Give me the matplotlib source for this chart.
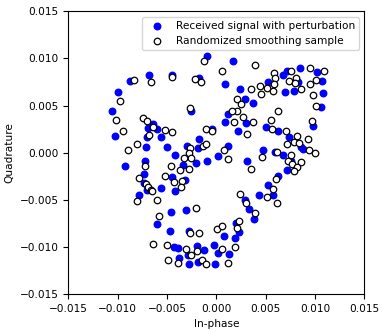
import numpy as np
import matplotlib
matplotlib.use("Agg")
import matplotlib.pyplot as plt

# received signal (blue, filled)
rx_i = [-0.00682, -0.00444, -0.00875, -0.01001, -0.01054, -0.00645, -0.00695, -0.00598,
        -0.01022, -0.00705, -0.00560, -0.00712, -0.00497, -0.00416, -0.00723, -0.00259,
        -0.00099, 0.00166, -0.00180, 0.00083, 0.00240, 0.00291, 0.00375, 0.00122,
        0.00088, 0.00304, 0.00215, -0.00044, -0.00172, 0.00122, -0.00297, -0.00185,
        0.00017, -0.00097, 0.00311, -0.00209, 0.00848, 0.01021, 0.00714, 0.00676,
        0.00519, 0.00828, 0.01068, 0.00696, 0.00791, 0.01081, 0.01056, 0.00983,
        0.00501, 0.00622, 0.00737, 0.00861, 0.00882, 0.00476, 0.00679, 0.00595,
        -0.00925, -0.00736, -0.00454, -0.00733, -0.00702, -0.00564, -0.00419, -0.00783,
        -0.00459, -0.00596, -0.00469, -0.00432, -0.00385, -0.00317, 0.00291, 0.00328,
        0.00382, -0.00310, 0.00200, 0.00233, -0.00274, 0.00081, 0.00190, -0.00199,
        -0.00122, -0.00028, -0.00284, 0.00020, 0.00126, -0.00189, -0.00275, -0.00011,
        -0.00381, 0.00757, 0.00717, 0.00628, 0.00527, 0.00435, 0.00570, -0.00334]
rx_q = [0.00824, 0.00821, 0.00760, 0.00640, 0.00439, 0.00304, 0.00259, 0.00248,
        0.00177, 0.00170, 0.00166, 0.00060, 0.00064, -0.00022, -0.00083, 0.00442,
        0.01030, 0.00972, 0.00789, 0.00734, 0.00678, 0.00569, 0.00524, 0.00413,
        0.00322, 0.00318, 0.00230, 0.00254, 0.00148, 0.00076, 0.00068, 0.00053,
        -0.00035, -0.00093, -0.00093, -0.00109, 0.00903, 0.00852, 0.00866, 0.00829,
        0.00755, 0.00749, 0.00765, 0.00647, 0.00654, 0.00636, 0.00488, 0.00280,
        0.00276, 0.00230, 0.00170, 0.00064, 0.00036, 0.00032, -0.00021, 0.00002,
        -0.00138, -0.00223, -0.00261, -0.00318, -0.00395, -0.00371, -0.00403, -0.00454,
        -0.00625, -0.00761, -0.00833, -0.01003, -0.01013, -0.00293, -0.00501, -0.00594,
        -0.00700, -0.00611, -0.00748, -0.00841, -0.00833, -0.00888, -0.00904, -0.00989,
        -0.01028, -0.00981, -0.01088, -0.01065, -0.01074, -0.01159, -0.01185, -0.01180,
        -0.01118, -0.00091, -0.00189, -0.00252, -0.00348, -0.00454, -0.00454, -0.00130]

# randomized smoothing samples (open circles)
rs_i = [-0.00120, -0.00657, -0.00831, -0.00454, -0.00971, -0.01020, -0.00944, -0.00264,
        -0.00213, -0.00160, 0.00053, -0.00740, -0.00699, -0.00642, -0.00517, -0.00452,
        -0.00679, -0.00107, -0.00047, -0.00890, -0.00804, -0.00264, -0.00132, -0.00104,
        0.00397, 0.00347, 0.00213, 0.00253, 0.00213, 0.00156, 0.00268, 0.00182,
        0.00369, 0.00308, 0.00081, -0.00272, -0.00330, -0.00256, 0.00119, 0.00950,
        0.01095, 0.00757, 0.00585, 0.00808, 0.00598, 0.00740, 0.00795, 0.01007,
        0.00950, 0.00443, 0.00511, 0.00585, 0.00578, 0.00858, 0.00977, 0.00450,
        0.01010, 0.00625, 0.00970, 0.00551, 0.00565, 0.00703, 0.00818, 0.00929,
        0.00714, 0.00791, 0.00835, 0.00940, 0.00997, 0.00610, 0.00460, 0.00760,
        0.00727, 0.00767, 0.00858, 0.00820, 0.00790, 0.00608, 0.00572, 0.00517,
        0.00620, 0.00392, 0.00352, -0.00723, -0.00459, -0.00373, -0.00780, -0.00517,
        -0.00432, -0.00716, -0.00697, -0.00659, -0.00649, -0.00801, -0.00604, -0.00578,
        -0.00645, -0.00503, -0.00493, -0.00391, -0.00274, -0.00351, -0.00358, 0.00243,
        0.00299, -0.00201, 0.00233, 0.00205, 0.00004, 0.00061, -0.00267, -0.00173,
        -0.00307, 0.00193, 0.00058, -0.00256, -0.00196, -0.00148, -0.00107, 0.00119]
rs_q = [0.00972, 0.00749, 0.00771, 0.00802, 0.00553, 0.00352, 0.00235, 0.00477,
        0.00787, 0.00747, 0.00866, 0.00365, 0.00339, 0.00276, 0.00241, 0.00223,
        0.00186, 0.00246, 0.00233, 0.00032, 0.00087, 0.00050, 0.00076, 0.00095,
        0.00927, 0.00678, 0.00569, 0.00516, 0.00442, 0.00442, 0.00382, 0.00325,
        0.00325, 0.00198, 0.00029, -0.00008, -0.00053, -0.00059, -0.00067, 0.00895,
        0.00866, 0.00866, 0.00842, 0.00792, 0.00795, 0.00757, 0.00742, 0.00771,
        0.00725, 0.00710, 0.00689, 0.00728, 0.00654, 0.00678, 0.00612, 0.00625,
        0.00498, 0.00442, 0.00336, 0.00350, 0.00248, 0.00233, 0.00177, 0.00148,
        0.00089, 0.00110, 0.00106, 0.00029, -0.00006, 0.00002, -0.00051, -0.00024,
        -0.00083, -0.00118, -0.00099, -0.00149, -0.00192, -0.00281, -0.00390, -0.00468,
        -0.00539, -0.00645, -0.00173, -0.00144, -0.00141, -0.00189, -0.00268, -0.00247,
        -0.00316, -0.00335, -0.00366, -0.00395, -0.00411, -0.00514, -0.00504, -0.00673,
        -0.00970, -0.00982, -0.01143, -0.01172, -0.00178, -0.00302, -0.00364, -0.00438,
        -0.00539, -0.00589, -0.00722, -0.00804, -0.00812, -0.00782, -0.00851, -0.00853,
        -0.01026, -0.01000, -0.01023, -0.01087, -0.01042, -0.01135, -0.01182, -0.01172]

ticks = [-0.015, -0.010, -0.005, 0.000, 0.005, 0.010, 0.015]
tick_labels = [f"{t:.3f}".replace("-", "\u2212") for t in ticks]

plt.rcParams["font.size"] = 7.6

fig = plt.figure(figsize=(3.88, 3.33), dpi=100)
ax = fig.add_axes([0.176, 0.117, 0.763, 0.849])

ax.scatter(rx_i, rx_q, s=22, color="blue", label="Received signal with perturbation")
ax.scatter(rs_i, rs_q, s=22, facecolors="white", edgecolors="black", linewidths=0.9,
           label="Randomized smoothing sample")

ax.set_xlim(-0.015, 0.015)
ax.set_ylim(-0.015, 0.015)
ax.set_xticks(ticks)
ax.set_yticks(ticks)
ax.set_xticklabels(tick_labels)
ax.set_yticklabels(tick_labels)
ax.set_xlabel("In-phase")
ax.set_ylabel("Quadrature")
ax.legend(loc="upper right")

fig.savefig("out.png", dpi=100)
